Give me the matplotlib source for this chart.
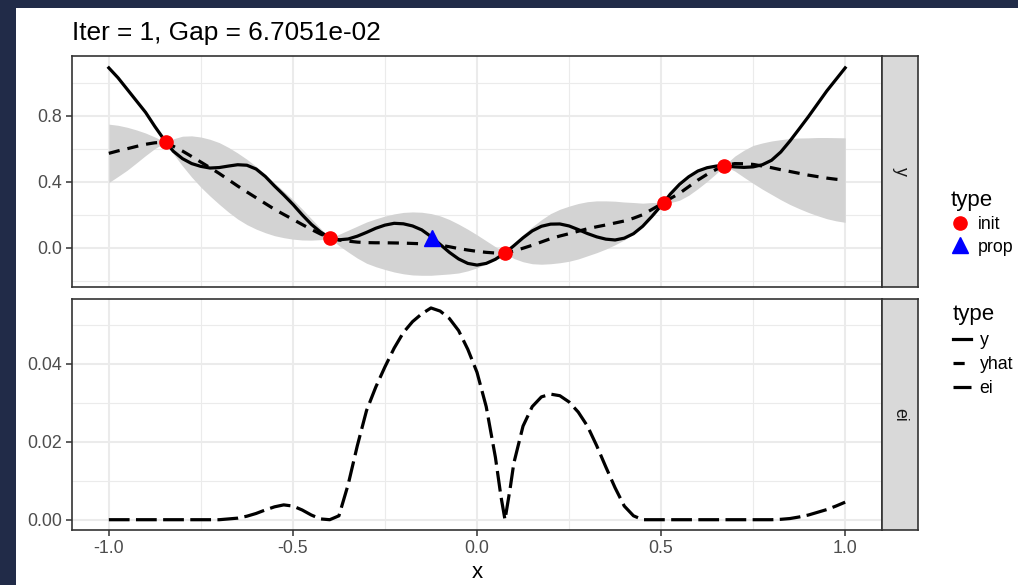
import numpy as np
import matplotlib.pyplot as plt
from matplotlib.lines import Line2D
from matplotlib.patches import Rectangle

plt.rcParams['font.family'] = ['Liberation Sans', 'DejaVu Sans']
plt.rcParams['axes.unicode_minus'] = False

# top panel: true function, GP mean and band half-width
x = [-1.0, -0.975, -0.95, -0.925, -0.9, -0.875, -0.845, -0.825, -0.8, -0.775,
     -0.75, -0.725, -0.7, -0.675, -0.65, -0.625, -0.6, -0.575, -0.55, -0.525,
     -0.5, -0.475, -0.45, -0.425, -0.4, -0.375, -0.35, -0.325, -0.3, -0.275,
     -0.25, -0.225, -0.2, -0.175, -0.15, -0.125, -0.1, -0.075, -0.05, -0.025,
     0.0, 0.025, 0.05, 0.076, 0.1, 0.125, 0.15, 0.175, 0.2, 0.225,
     0.25, 0.275, 0.3, 0.325, 0.35, 0.375, 0.4, 0.425, 0.45, 0.475,
     0.507, 0.525, 0.55, 0.575, 0.6, 0.625, 0.65, 0.671, 0.7, 0.725,
     0.75, 0.775, 0.8, 0.825, 0.85, 0.875, 0.9, 0.925, 0.95, 0.975, 1.0]
y = [1.09, 1.03, 0.96, 0.89, 0.82, 0.735, 0.64, 0.585, 0.54, 0.51,
     0.493, 0.483, 0.486, 0.495, 0.503, 0.5, 0.477, 0.432, 0.374, 0.32,
     0.263, 0.2, 0.142, 0.095, 0.06, 0.048, 0.053, 0.07, 0.093, 0.118,
     0.137, 0.148, 0.145, 0.132, 0.108, 0.068, 0.02, -0.028, -0.068, -0.095,
     -0.105, -0.095, -0.07, -0.032, 0.012, 0.06, 0.102, 0.13, 0.143, 0.144,
     0.132, 0.11, 0.086, 0.066, 0.052, 0.047, 0.058, 0.085, 0.13, 0.19,
     0.273, 0.325, 0.384, 0.43, 0.465, 0.485, 0.495, 0.497, 0.49, 0.487,
     0.49, 0.503, 0.53, 0.58, 0.647, 0.72, 0.794, 0.872, 0.95, 1.02, 1.09]
yhat = [0.572, 0.587, 0.60, 0.614, 0.627, 0.636, 0.64, 0.615, 0.586, 0.553,
        0.519, 0.485, 0.45, 0.412, 0.374, 0.338, 0.303, 0.268, 0.233, 0.202,
        0.172, 0.141, 0.111, 0.083, 0.06, 0.047, 0.04, 0.034, 0.031, 0.03,
        0.03, 0.029, 0.028, 0.026, 0.024, 0.02, 0.015, 0.006, -0.005, -0.014,
        -0.022, -0.028, -0.032, -0.032, -0.02, -0.003, 0.015, 0.035, 0.055, 0.071,
        0.085, 0.1, 0.115, 0.127, 0.138, 0.15, 0.162, 0.179, 0.2, 0.232,
        0.273, 0.298, 0.33, 0.37, 0.41, 0.445, 0.475, 0.497, 0.51, 0.509,
        0.505, 0.495, 0.485, 0.473, 0.462, 0.451, 0.44, 0.431, 0.422, 0.415, 0.41]
band = [0.177, 0.155, 0.13, 0.1, 0.068, 0.035, 0.0, 0.045, 0.09, 0.125,
        0.152, 0.172, 0.187, 0.196, 0.2, 0.198, 0.19, 0.177, 0.16, 0.141,
        0.12, 0.094, 0.065, 0.034, 0.0, 0.034, 0.066, 0.097, 0.125, 0.145,
        0.162, 0.176, 0.186, 0.191, 0.191, 0.187, 0.178, 0.165, 0.148, 0.126,
        0.1, 0.07, 0.038, 0.0, 0.045, 0.082, 0.112, 0.135, 0.152, 0.162,
        0.167, 0.168, 0.164, 0.157, 0.146, 0.132, 0.115, 0.095, 0.07, 0.042,
        0.0, 0.025, 0.042, 0.052, 0.052, 0.043, 0.025, 0.0, 0.045, 0.082,
        0.115, 0.14, 0.162, 0.182, 0.2, 0.214, 0.226, 0.237, 0.246, 0.252, 0.256]

init_x = [-0.845, -0.4, 0.076, 0.507, 0.671]
init_y = [0.64, 0.06, -0.032, 0.273, 0.497]
prop_x = [-0.123]
prop_y = [0.06]

# bottom panel: expected improvement
ei_x = [-1.0, -0.9, -0.8, -0.7, -0.65, -0.625, -0.6, -0.575, -0.55, -0.525,
        -0.5, -0.475, -0.45, -0.425, -0.4, -0.375, -0.35, -0.325, -0.3, -0.275,
        -0.25, -0.225, -0.2, -0.175, -0.15, -0.125, -0.1, -0.075, -0.05, -0.025,
        0.0, 0.025, 0.05, 0.065, 0.076, 0.09, 0.1, 0.125, 0.15, 0.175,
        0.2, 0.225, 0.25, 0.275, 0.3, 0.325, 0.35, 0.375, 0.4, 0.425,
        0.45, 0.5, 0.6, 0.7, 0.8, 0.825, 0.85, 0.875, 0.9, 0.925, 0.95, 0.975, 1.0]
ei = [0.0, 0.0, 0.0, 0.0, 0.0004, 0.0009, 0.0016, 0.0025, 0.0033, 0.0038,
      0.0035, 0.0025, 0.0012, 0.0002, 0.0, 0.001, 0.009, 0.019, 0.028, 0.034,
      0.0392, 0.044, 0.048, 0.0508, 0.0528, 0.0543, 0.0535, 0.0516, 0.0485, 0.0437,
      0.0378, 0.029, 0.016, 0.006, 0.0, 0.008, 0.0145, 0.024, 0.029, 0.0315,
      0.0322, 0.0318, 0.0302, 0.0276, 0.024, 0.019, 0.0135, 0.0082, 0.0035, 0.001,
      0.0, 0.0, 0.0, 0.0, 0.0, 0.0001, 0.0003, 0.0007, 0.0012, 0.0019, 0.0026, 0.0035, 0.0045]

title = 'Iter = 1, Gap = 6.7051e-02'

W, H = 1018, 585
fig = plt.figure(figsize=(W / 100, H / 100), dpi=100)
fig.patch.set_facecolor('#212b48')
fig.add_artist(Rectangle((16 / W, 0), 1 - 16 / W, 1 - 8 / H, transform=fig.transFigure,
                         facecolor='white', edgecolor='none', zorder=0))


def px_box(l, t, r, b):
    return [l / W, 1 - b / H, (r - l) / W, (b - t) / H]


ax1 = fig.add_axes(px_box(72, 56, 882, 287))
ax2 = fig.add_axes(px_box(72, 299, 882, 530))
s1 = fig.add_axes(px_box(882, 56, 918, 287))
s2 = fig.add_axes(px_box(882, 299, 918, 530))

xa = np.array(x)
ya = np.array(yhat)
wa = np.array(band)
lw = 2.3
ax1.fill_between(xa, ya - wa, ya + wa, color='#d3d3d3', lw=0, zorder=2)
ax1.plot(x, y, color='black', lw=lw, zorder=3)
ax1.plot(x, yhat, color='black', lw=lw, ls=(0, (3.5, 2.5)), zorder=3)
ax1.plot(init_x, init_y, 'o', color='red', ms=9.5, zorder=4)
ax1.plot(prop_x, prop_y, '^', color='blue', ms=11, zorder=4)

ax2.plot(ei_x, ei, color='black', lw=lw, ls=(0, (6.5, 2.0)), zorder=3)

ax1.set_ylim(-0.238, 1.162)
ax2.set_ylim(-0.00264, 0.0566)
ax1.set_yticks([0.0, 0.4, 0.8])
ax1.set_yticklabels(['0.0', '0.4', '0.8'])
ax1.set_yticks([-0.2, 0.2, 0.6, 1.0], minor=True)
ax2.set_yticks([0.0, 0.02, 0.04])
ax2.set_yticklabels(['0.00', '0.02', '0.04'])
ax2.set_yticks([0.01, 0.03, 0.05], minor=True)

for ax in (ax1, ax2):
    ax.set_xlim(-1.1, 1.1)
    ax.set_xticks([-1.0, -0.5, 0.0, 0.5, 1.0])
    ax.set_xticks([-0.75, -0.25, 0.25, 0.75], minor=True)
    ax.grid(which='major', color='#ebebeb', lw=1.5, zorder=0)
    ax.grid(which='minor', color='#ebebeb', lw=0.8, zorder=0)
    ax.set_axisbelow(True)
    for sp in ax.spines.values():
        sp.set_color('#333333')
        sp.set_linewidth(1.2)
    ax.tick_params(which='major', length=4, width=1.1, color='#333333',
                   labelsize=12.8, labelcolor='#4d4d4d', pad=3)
    ax.tick_params(which='minor', length=0)

ax1.tick_params(axis='x', which='both', length=0, labelbottom=False)
ax2.set_xticklabels(['-1.0', '-0.5', '0.0', '0.5', '1.0'])
ax2.set_xlabel('x', fontsize=16, labelpad=4)

for s, lab in ((s1, 'y'), (s2, 'ei')):
    s.set_facecolor('#d9d9d9')
    s.set_xticks([])
    s.set_yticks([])
    for sp in s.spines.values():
        sp.set_color('#333333')
        sp.set_linewidth(1.2)
    s.text(0.5, 0.5, lab, rotation=-90, ha='center', va='center',
           fontsize=12.8, color='#1a1a1a', transform=s.transAxes)

fig.text(72 / W, 1 - 40 / H, title, fontsize=18.9, color='black', ha='left', va='baseline')

h1 = [Line2D([], [], marker='o', color='red', ls='', ms=9.5),
      Line2D([], [], marker='^', color='blue', ls='', ms=11)]
fig.legend(h1, ['init', 'prop'], title='type', loc='upper left',
           bbox_to_anchor=(951 / W, 1 - 190 / H), bbox_transform=fig.transFigure,
           frameon=False, fontsize=12.8, title_fontsize=16, alignment='left',
           handlelength=1.0, handletextpad=0.5, labelspacing=0.3,
           borderpad=0, borderaxespad=0)
h2 = [Line2D([], [], color='black', lw=lw),
      Line2D([], [], color='black', lw=lw, ls=(0, (3.5, 2.5))),
      Line2D([], [], color='black', lw=lw, ls=(0, (6.5, 2.0)))]
fig.legend(h2, ['y', 'yhat', 'ei'], title='type', loc='upper left',
           bbox_to_anchor=(953 / W, 1 - 304 / H), bbox_transform=fig.transFigure,
           frameon=False, fontsize=12.8, title_fontsize=16, alignment='left',
           handlelength=1.0, handletextpad=0.5, labelspacing=0.4,
           borderpad=0, borderaxespad=0)

fig.savefig('out.png', dpi=100, facecolor=fig.get_facecolor())
